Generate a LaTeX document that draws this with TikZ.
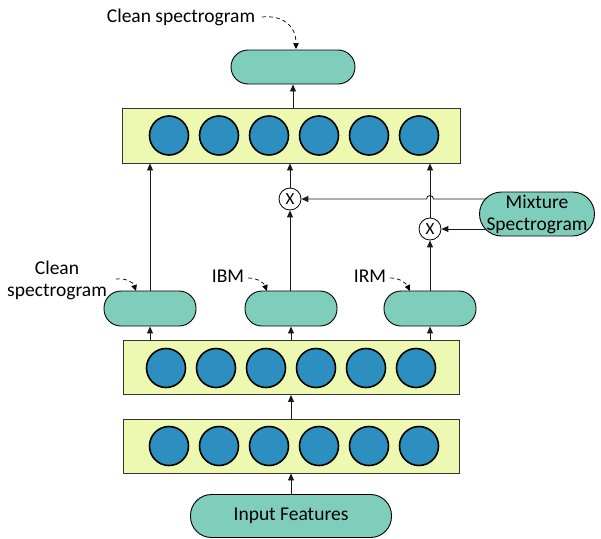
\documentclass[tikz,border=0pt]{standalone}
\usepackage{fontspec}
\setmainfont{Carlito}
\usetikzlibrary{arrows.meta}
\definecolor{pillc}{HTML}{7FCDBB}
\definecolor{layc}{HTML}{EDF8B1}
\definecolor{neuc}{HTML}{2C8FBF}
\tikzset{
  pill/.style={draw=black, line width=0.9pt, fill=pillc, rounded corners=17pt, minimum height=35pt, inner sep=0pt, font=\fontsize{19.5}{22}\selectfont},
  layer/.style={draw=black!80, line width=0.9pt, fill=layc, minimum width=336pt, minimum height=54pt, inner sep=0pt},
  neuron/.style={circle, draw=black, line width=1.6pt, fill=neuc, minimum size=39pt, inner sep=0pt},
  mult/.style={circle, draw=black, line width=0.8pt, fill=white, minimum size=22pt, inner sep=0pt, font=\fontsize{17}{17}\selectfont},
  lab/.style={inner sep=0pt, font=\fontsize{19.5}{22}\selectfont, align=center},
  arr/.style={draw=black!90, line width=0.85pt, -{Triangle[length=7pt,width=6pt]}},
  darr/.style={draw=black, line width=0.7pt, dashed, dash pattern=on 4pt off 3pt, -{Triangle[length=6pt,width=5.5pt]}}
}
\begin{document}
\begin{tikzpicture}[x=1pt,y=-1pt]
\useasboundingbox (0,0) rectangle (601,538);
% layers
\node[layer, minimum width=338pt, minimum height=55pt] (L3) at (291,135.5) {};
\node[layer] (L2) at (291,367.5) {};
\node[layer] (L1) at (291,446) {};
\foreach \i/\x in {1/169,2/219,3/269,4/319,5/369,6/419}{
  \node[neuron] (a\i) at (\x,135.5) {};
}
\foreach \i/\x in {1/166,2/216,3/266,4/316,5/366,6/416}{
  \node[neuron] (b\i) at (\x,368) {};
}
\foreach \i/\x in {1/169,2/219,3/269,4/319,5/369,6/419}{
  \node[neuron] (c\i) at (\x,446) {};
}
% pills
\node[pill, minimum width=124pt, minimum height=34pt] (top) at (293,67) {};
\node[pill, minimum width=92pt] (pl) at (150,308.5) {};
\node[pill, minimum width=92pt] (pm) at (291,308.5) {};
\node[pill, minimum width=92pt] (pr) at (430,308.5) {};
\node[pill, minimum width=201pt, minimum height=43pt, rounded corners=21pt] (inp) at (291,516) {Input Features};
\node[pill, minimum width=115pt, minimum height=44pt, rounded corners=22pt, align=center] (mix) at (537,214) {Mixture\\Spectrogram};
% multipliers
\node[mult] (x1) at (290,199) {X};
\node[mult] (x2) at (430,229) {X};
% labels
\node[lab] (t1) at (181,17) {Clean spectrogram};
\node[lab] (t2) at (57,280) {Clean\\spectrogram};
\node[lab] (t3) at (228,276) {IBM};
\node[lab] (t4) at (370,276) {IRM};
% coordinates
\coordinate (m1) at (486,199);
\coordinate (m2) at (486,229);
\coordinate (d1) at (262,17);
\coordinate (e1) at (296,49);
\coordinate (d2) at (116,279);
\coordinate (e2) at (136,291);
\coordinate (d3) at (248,278);
\coordinate (e3) at (267,291);
\coordinate (d4) at (390,278);
\coordinate (e4) at (410,291);
% connectors
\draw[arr] (L3.north -| top) -- (top.south);
\draw[arr] (pl.north) -- (pl.north |- L3.south);
\draw[arr] (pm.north -| x1) -- (x1.south);
\draw[arr] (x1.north) -- (x1.north |- L3.south);
\draw[arr] (pr.north) -- (x2.south);
\draw[arr] (x2.north) -- (x2.north |- L3.south);
\draw[arr] (m1) -- (433.5,199) arc (0:-180:3.5) -- (x1.east);
\draw[arr] (m2) -- (x2.east);
\draw[arr] (L2.north -| pl) -- (pl.south);
\draw[arr] (L2.north -| pm) -- (pm.south);
\draw[arr] (L2.north -| pr) -- (pr.south);
\draw[arr] (L1.north) -- (L2.south);
\draw[arr] (inp.north) -- (L1.south);
% dashed pointers
\draw[darr] (d1) .. controls (282,15) and (296,25) .. (e1);
\draw[darr] (d2) .. controls (126,278) and (133,282) .. (e2);
\draw[darr] (d3) .. controls (258,278) and (264,283) .. (e3);
\draw[darr] (d4) .. controls (400,278) and (406,283) .. (e4);
\end{tikzpicture}
\end{document}
